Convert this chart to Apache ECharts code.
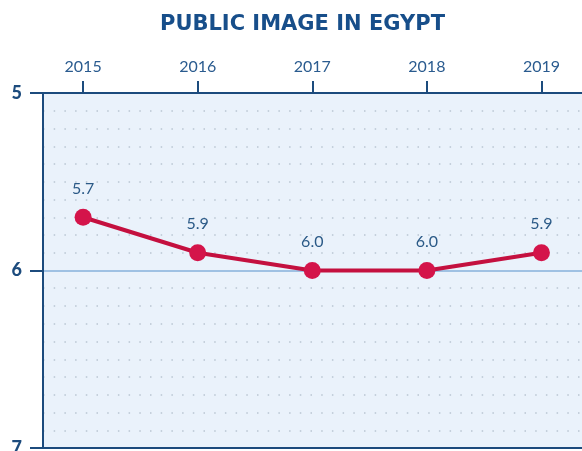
<!DOCTYPE html>
<html><head><meta charset="utf-8">
<script src="https://cdn.jsdelivr.net/npm/echarts@6/dist/echarts.min.js"></script>
<style>html,body{margin:0;padding:0;background:#fff}#c{width:582px;height:451px}</style>
</head><body><div id="c"></div>
<script>
const years = [2015, 2016, 2017, 2018, 2019];
const values = [5.7, 5.9, 6.0, 6.0, 5.9];
const yTicks = [5, 6, 7];
const title = 'PUBLIC IMAGE IN EGYPT';

const dark = '#1c4b7d';
const chart = echarts.init(document.getElementById('c'));
chart.setOption({
  animation: false,
  title: {
    text: title, left: 155, top: 9,
    textStyle: {fontFamily: 'DejaVu Sans', fontWeight: 'bold', fontSize: 21, color: '#174e8a'}
  },
  grid: {left: 43, right: -3, top: 93, bottom: 3, outerBoundsMode: 'none', containLabel: false,
    show: true, backgroundColor: '#eaf2fb', borderWidth: 0},
  xAxis: [{
    type: 'value', position: 'top', min: 2014.65, max: 2019.38,
    axisLine: {show: true, lineStyle: {color: dark, width: 2}},
    axisTick: {show: true, length: 12, customValues: years, lineStyle: {color: dark, width: 2}},
    axisLabel: {customValues: years, margin: 18, color: '#2a5b8f', fontFamily: 'Lato', fontSize: 16, formatter: v => String(v)},
    splitLine: {show: false}
  }, {
    type: 'value', position: 'bottom', min: 2014.65, max: 2019.38,
    axisLine: {show: true, lineStyle: {color: dark, width: 2}},
    axisTick: {show: false}, axisLabel: {show: false}, splitLine: {show: false}
  }],
  yAxis: {
    type: 'value', inverse: true, min: 5, max: 7, interval: 1,
    axisLine: {show: true, lineStyle: {color: dark, width: 2}},
    axisTick: {show: true, length: 13, lineStyle: {color: dark, width: 2}},
    axisLabel: {margin: 21, color: dark, fontFamily: 'Lato', fontWeight: 900, fontSize: 18,
      formatter: v => yTicks.includes(v) ? String(v) : ''},
    splitLine: {show: true, lineStyle: {color: '#9fc1e3', width: 2}},
    minorTick: {show: false, splitNumber: 10},
    minorSplitLine: {show: true, lineStyle: {color: '#b9c5d2', width: 1.5, type: [1.5, 9.2]}}
  },
  series: [{
    type: 'line', xAxisIndex: 0,
    data: years.map((y, i) => [y, values[i]]),
    symbol: 'circle', symbolSize: 17,
    lineStyle: {color: '#c4103f', width: 4},
    itemStyle: {color: '#d4144a'},
    label: {show: true, position: 'top', distance: 12, color: '#2b5a87', fontFamily: 'Lato', fontSize: 16,
      formatter: p => p.value[1].toFixed(1)},
    z: 5
  }]
});
</script></body></html>
